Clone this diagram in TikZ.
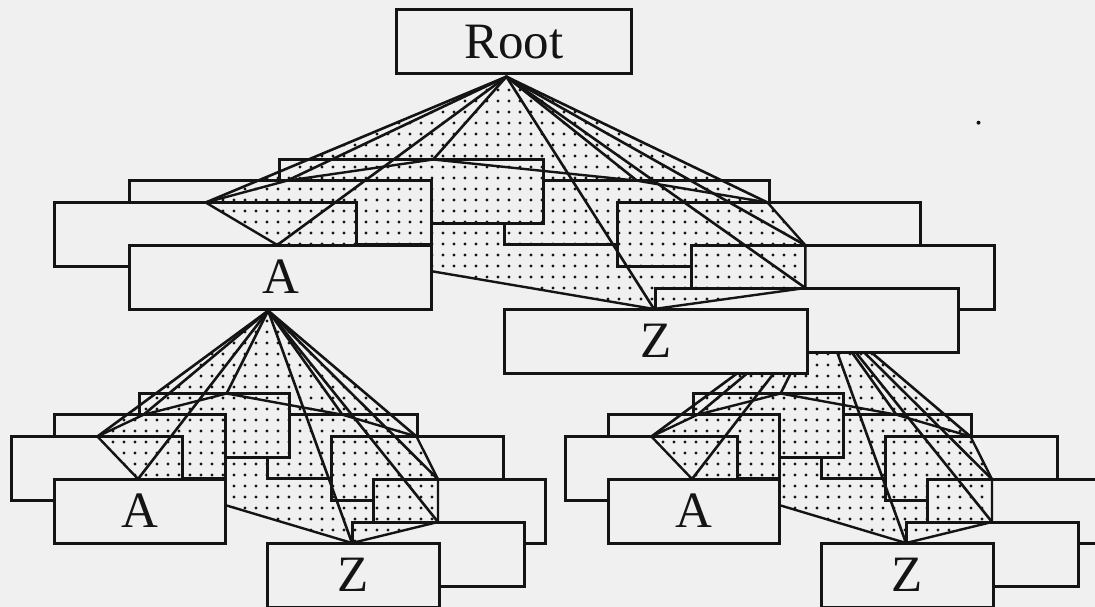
\documentclass[tikz,border=0pt]{standalone}
\usepackage{fontspec}
\setmainfont{Liberation Serif}
\definecolor{paper}{gray}{0.94}
\definecolor{ink}{gray}{0.08}
\tikzset{
  box/.style={draw=ink, fill=paper, line width=3pt, inner sep=0pt, outer sep=0pt,
    minimum height=64pt, anchor=north west, text=ink,
    font=\fontsize{51}{51}\selectfont},
  spoke/.style={draw=ink, line width=2.6pt, line cap=round, line join=round},
  ring/.style={draw=ink, line width=2.4pt, line join=round},
  dot/.style={fill=ink}
}
% One cone of nine children hanging from an apex.
% #1 name prefix, #2/#3 top-left corner of the front-left child, #4 horizontal scale
\newcommand\conegroup[4]{%
  \pgfmathsetmacro\wideW{302.4*#4}%
  \pgfmathsetmacro\narrowW{264.2*#4}%
  % back children and attachment points
  \begin{scope}[shift={(#2,#3)}, xscale=#4]
    \coordinate (#1-apex) at (377.1,-168.3);
    \coordinate (#1-pl) at (76.4,-42.5);
    \coordinate (#1-p2) at (157.7,-64.3);
    \coordinate (#1-p1) at (303.9,-85.5);
    \coordinate (#1-p3) at (507.7,-64.3);
    \coordinate (#1-p4) at (638.2,-42.5);
    \coordinate (#1-p5) at (676.1,0.3);
    \coordinate (#1-p6) at (676.1,43);
    \coordinate (#1-pz) at (524.7,64);
    \coordinate (#1-pa) at (148,0);
    \node[box, minimum width=\narrowW pt] (#1-b3) at (375.5,-64.3) {};
    \node[box, minimum width=\narrowW pt] (#1-b1) at (150,-85.5) {};
    \node[box, minimum width=\wideW pt] (#1-b2) at (0,-64.3) {};
    \node[box, minimum width=\wideW pt] (#1-bl) at (-75.3,-42.5) {};
    \node[box, minimum width=\wideW pt] (#1-b4) at (488.4,-42.5) {};
    \node[box, minimum width=\wideW pt] (#1-b5) at (562.5,0.3) {};
    \node[box, minimum width=\wideW pt] (#1-b6) at (526.3,43) {};
  \end{scope}
  % dotted cone surface
  \pgfmathtruncatemacro\ia{(#2+60*#4)/11}%
  \pgfmathtruncatemacro\ib{(#2+690*#4)/11+1}%
  \pgfmathtruncatemacro\ja{(#3-172)/11}%
  \pgfmathtruncatemacro\jb{(#3+68)/11+1}%
  \begin{scope}
    \clip (#1-apex) -- (#1-pl) -- (#1-pa) -- (#1-pz) -- (#1-p6) -- (#1-p5) -- (#1-p4) -- cycle;
    \foreach \i in {\ia,...,\ib}{%
      \foreach \j in {\ja,...,\jb}{%
        \fill[dot] ({11*\i+3},{11*\j+2}) circle (1.6);}}
  \end{scope}
  % spokes and rim
  \foreach \p in {pl,p2,p1,p3,p4,p5,p6,pz,pa}{\draw[spoke] (#1-apex) -- (#1-\p);}
  \draw[ring] (#1-pl) -- (#1-p2) -- (#1-p1) -- (#1-p3) -- (#1-p4) -- (#1-p5)
    -- (#1-p6) -- (#1-pz) -- (#1-pa) -- cycle;
  % front children
  \begin{scope}[shift={(#2,#3)}, xscale=#4]
    \node[box, minimum width=\wideW pt] (#1-A) at (0,0) {A};
    \node[box, minimum width=\wideW pt] (#1-Z) at (375.5,64) {Z};
  \end{scope}
}
\begin{document}
\begin{tikzpicture}[x=1pt, y=-1pt]
  \fill[paper] (0,0) rectangle (1095,607);
  \useasboundingbox (0,0) rectangle (1095,607);
  \conegroup{br}{608}{479}{0.568}
  \conegroup{bl}{54}{479}{0.568}
  \conegroup{tp}{129.3}{245}{1}
  \node[box, minimum width=235.7pt] (root) at (396,10) {Root};
  \fill[ink] (978.5,122.7) circle (2);
\end{tikzpicture}
\end{document}
